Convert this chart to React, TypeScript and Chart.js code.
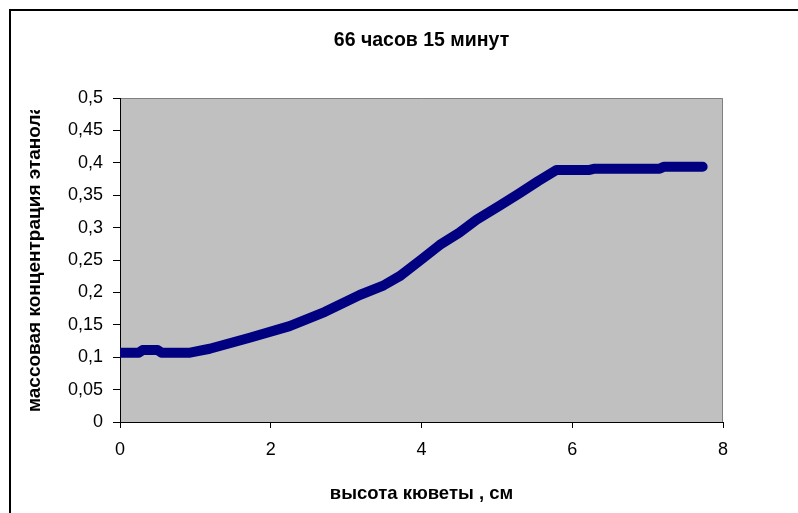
import React, { useEffect, useRef } from "react";
import { Chart, registerables } from "chart.js";

Chart.register(...registerables);

// Cuvette height, cm
const heights = [0, 0.25, 0.3, 0.5, 0.55, 0.93, 1.19, 1.72, 2.25, 2.72, 3.18, 3.5, 3.71, 4.0, 4.24, 4.5, 4.73, 5.04, 5.3, 5.55, 5.79, 6.23, 6.3, 7.16, 7.22, 7.73];
// Ethanol mass concentration
const concentration = [0.107, 0.107, 0.111, 0.111, 0.107, 0.107, 0.113, 0.130, 0.148, 0.170, 0.196, 0.211, 0.225, 0.251, 0.273, 0.292, 0.312, 0.334, 0.353, 0.372, 0.389, 0.389, 0.391, 0.391, 0.394, 0.394];

const xTicks = [0, 2, 4, 6, 8];
const yTicks = [0, 0.05, 0.1, 0.15, 0.2, 0.25, 0.3, 0.35, 0.4, 0.45, 0.5];

const chartTitle = "66 часов 15 минут";
const xTitle = "высота кюветы , см";
const yTitle = "массовая концентрация этанола";

const FONT = "Arial, 'Liberation Sans', sans-serif";

// Grey plot background with a thin grey frame on the open sides
const plotBackground = {
  id: "plotBackground",
  beforeDraw(chart: Chart) {
    const { ctx, chartArea: a } = chart;
    ctx.save();
    ctx.fillStyle = "#c0c0c0";
    ctx.fillRect(a.left, a.top, a.right - a.left, a.bottom - a.top);
    ctx.strokeStyle = "#808080";
    ctx.lineWidth = 1;
    ctx.beginPath();
    ctx.moveTo(a.left, a.top + 0.5);
    ctx.lineTo(a.right - 0.5, a.top + 0.5);
    ctx.lineTo(a.right - 0.5, a.bottom);
    ctx.stroke();
    ctx.restore();
  },
};

// Chart title above the plot and the vertical axis title, whose box cuts off its far end
const titles = {
  id: "titles",
  afterDraw(chart: Chart) {
    const { ctx, chartArea: a } = chart;
    ctx.save();
    ctx.fillStyle = "#000";
    ctx.font = `bold 19.5px ${FONT}`;
    ctx.textAlign = "center";
    ctx.textBaseline = "middle";
    ctx.fillText(chartTitle, (a.left + a.right) / 2, 41);
    ctx.restore();

    ctx.save();
    ctx.beginPath();
    ctx.rect(0, a.top + 12, a.left, a.bottom);
    ctx.clip();
    ctx.translate(35, a.bottom - 10);
    ctx.rotate(-Math.PI / 2);
    ctx.fillStyle = "#000";
    ctx.font = `bold 19px ${FONT}`;
    ctx.textAlign = "left";
    ctx.textBaseline = "middle";
    ctx.fillText(yTitle, 0, 0);
    ctx.restore();
  },
};

const fmt = (v: number) => String(Math.round(v * 100) / 100).replace(".", ",");

export default function App() {
  const canvasRef = useRef<HTMLCanvasElement | null>(null);

  useEffect(() => {
    const canvas = canvasRef.current;
    if (!canvas) return;
    const chart = new Chart(canvas, {
      type: "line",
      data: {
        datasets: [
          {
            data: heights.map((h, i) => ({ x: h, y: concentration[i] })),
            borderColor: "#000080",
            backgroundColor: "#000080",
            borderWidth: 10,
            borderCapStyle: "round",
            borderJoinStyle: "round",
            pointRadius: 0,
            tension: 0,
          },
        ],
      },
      options: {
        responsive: false,
        animation: false,
        layout: { padding: { left: 0, right: 75, top: 98, bottom: 0 } },
        plugins: {
          legend: { display: false },
          tooltip: { enabled: false },
          title: { display: false },
        },
        scales: {
          x: {
            type: "linear",
            min: 0,
            max: 8,
            afterBuildTicks: (s: any) => {
              s.ticks = xTicks.map((v) => ({ value: v }));
            },
            afterFit: (s: any) => {
              s.height = 91;
            },
            grid: { drawOnChartArea: false, drawTicks: true, tickLength: 6, tickColor: "#000", color: "#000" },
            border: { color: "#000", width: 1 },
            ticks: { color: "#000", font: { family: FONT, size: 18 }, padding: 11, maxRotation: 0 },
            title: {
              display: true,
              text: xTitle,
              color: "#000",
              font: { family: FONT, size: 18.5, weight: "bold", lineHeight: 1.2 },
              padding: { top: 0, bottom: 8 },
            },
          },
          y: {
            type: "linear",
            min: 0,
            max: 0.5,
            afterBuildTicks: (s: any) => {
              s.ticks = yTicks.map((v) => ({ value: v }));
            },
            afterFit: (s: any) => {
              s.width = 120;
            },
            grid: { drawOnChartArea: false, drawTicks: true, tickLength: 7, tickColor: "#000", color: "#000" },
            border: { color: "#000", width: 1 },
            ticks: {
              color: "#000",
              font: { family: FONT, size: 18 },
              padding: 10,
              callback: (v: any) => fmt(Number(v)),
            },
            title: { display: false },
          },
        },
      },
      plugins: [plotBackground, titles],
    });
    return () => chart.destroy();
  }, []);

  return (
    <div
      style={{
        position: "fixed",
        left: 0,
        top: 0,
        width: 798,
        height: 513,
        overflow: "hidden",
        background: "#fff",
      }}
    >
      <div
        style={{
          position: "absolute",
          left: 9,
          top: 9,
          width: 820,
          height: 540,
          border: "2px solid #000",
        }}
      />
      <canvas ref={canvasRef} width={798} height={513} style={{ position: "absolute", left: 0, top: 0 }} />
    </div>
  );
}
